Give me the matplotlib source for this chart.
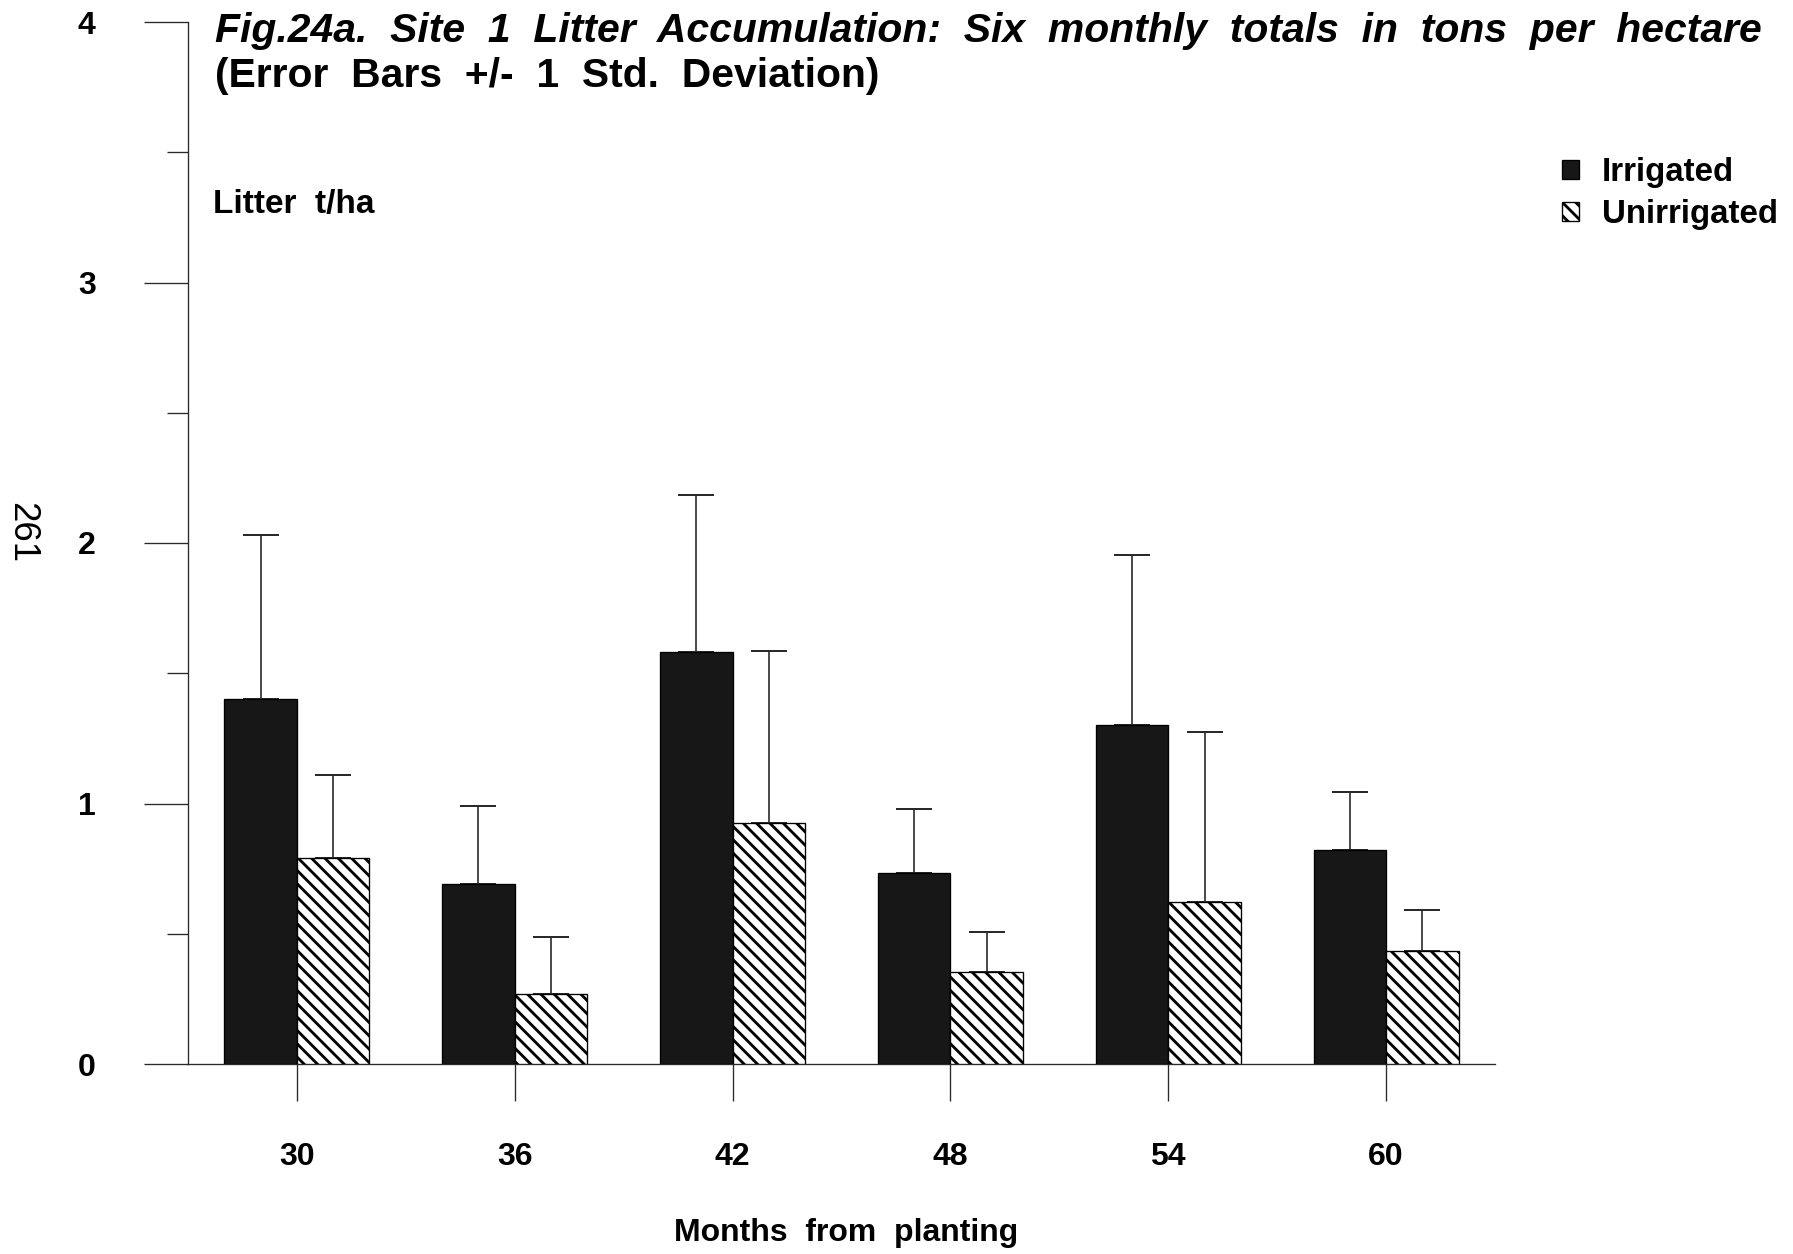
import matplotlib
matplotlib.use("Agg")
import matplotlib.pyplot as plt
import numpy as np

# Six-monthly litter totals (t/ha) with one standard deviation
months = ["30", "36", "42", "48", "54", "60"]
irrigated = [1.40, 0.69, 1.58, 0.735, 1.30, 0.82]
irrigated_sd = [0.63, 0.30, 0.605, 0.245, 0.655, 0.225]
unirrigated = [0.79, 0.27, 0.925, 0.355, 0.62, 0.435]
unirrigated_sd = [0.318, 0.219, 0.662, 0.152, 0.654, 0.157]
y_ticks = [0, 1, 2, 3, 4]
y_minor = [0.5, 1.5, 2.5, 3.5]

DPI = 120
plt.rcParams["font.family"] = ["Liberation Sans", "DejaVu Sans"]
plt.rcParams["font.weight"] = "bold"
plt.rcParams["hatch.linewidth"] = 1.7
plt.rcParams["hatch.color"] = "black"

fig = plt.figure(figsize=(1793 / DPI, 1254 / DPI), dpi=DPI, facecolor="white")
ax = fig.add_axes([188 / 1793, 1 - 1064 / 1254, (1495 - 188) / 1793, (1064 - 22) / 1254])

x = np.arange(len(months))
w = 0.333
line_col = "#2a2a2a"

ax.bar(x - w / 2, irrigated, width=w, color="#171717", edgecolor="black",
       linewidth=0.8, zorder=3, label="Irrigated")
ax.bar(x + w / 2, unirrigated, width=w, color="white", edgecolor="black",
       linewidth=0.8, hatch="\\\\\\", zorder=3, label="Unirrigated")

zeros = np.zeros(len(months))
ax.errorbar(x - w / 2, irrigated, yerr=[zeros, irrigated_sd], fmt="none",
            ecolor=line_col, elinewidth=1.0, capsize=10.8, capthick=1.2, zorder=2)
ax.errorbar(x + w / 2, unirrigated, yerr=[zeros, unirrigated_sd], fmt="none",
            ecolor=line_col, elinewidth=1.0, capsize=10.8, capthick=1.2, zorder=2)

ax.set_xlim(-0.5, 5.5)
ax.set_ylim(0, 4)
for side in ("top", "right"):
    ax.spines[side].set_visible(False)
for side in ("left", "bottom"):
    ax.spines[side].set_linewidth(0.8)
    ax.spines[side].set_color(line_col)

ax.set_yticks(y_ticks)
ax.set_yticklabels([str(v) for v in y_ticks])
ax.set_yticks(y_minor, minor=True)
ax.set_xticks(x)
ax.set_xticklabels(months)

ax.tick_params(axis="y", which="major", direction="out", length=26.4, width=0.8,
               color=line_col, pad=29, labelsize=19.2)
ax.tick_params(axis="y", which="minor", direction="out", length=12.6, width=0.8,
               color=line_col)
ax.tick_params(axis="x", which="major", direction="out", length=22, width=0.8,
               color=line_col, pad=25, labelsize=19.2)
for lab in ax.get_xticklabels() + ax.get_yticklabels():
    lab.set_fontweight("bold")

# Axis captions
fig.text(213 / 1793, 1 - 204.5 / 1254, "Litter  t/ha", fontsize=20,
         fontweight="bold", ha="left", va="center")
fig.text(846 / 1793, 1 - 1233 / 1254, "Months  from  planting", fontsize=19.2,
         fontweight="bold", ha="center", va="center")

# Title block
fig.text(215 / 1793, 1 - 42 / 1254,
         "Fig.24a.  Site  1  Litter  Accumulation:  Six  monthly  totals  in  tons  per  hectare",
         fontsize=24.5, fontweight="bold", fontstyle="italic", ha="left", va="baseline")
fig.text(215 / 1793, 1 - 87 / 1254,
         "(Error  Bars  +/-  1  Std.  Deviation)",
         fontsize=24.5, fontweight="bold", ha="left", va="baseline")

# Page number
fig.text(22 / 1793, 1 - 532 / 1254, "261", fontsize=22, fontweight="normal",
         rotation=-90, ha="center", va="center")

leg = ax.legend(loc="upper left", bbox_to_anchor=(1562 / 1793, 1 - 157 / 1254),
                bbox_transform=fig.transFigure, frameon=False,
                prop={"size": 19.8, "weight": "bold"},
                handlelength=0.5, handleheight=0.5, handletextpad=0.7,
                labelspacing=0.34, borderpad=0, borderaxespad=0)

fig.savefig("out.png", dpi=DPI, facecolor="white")
